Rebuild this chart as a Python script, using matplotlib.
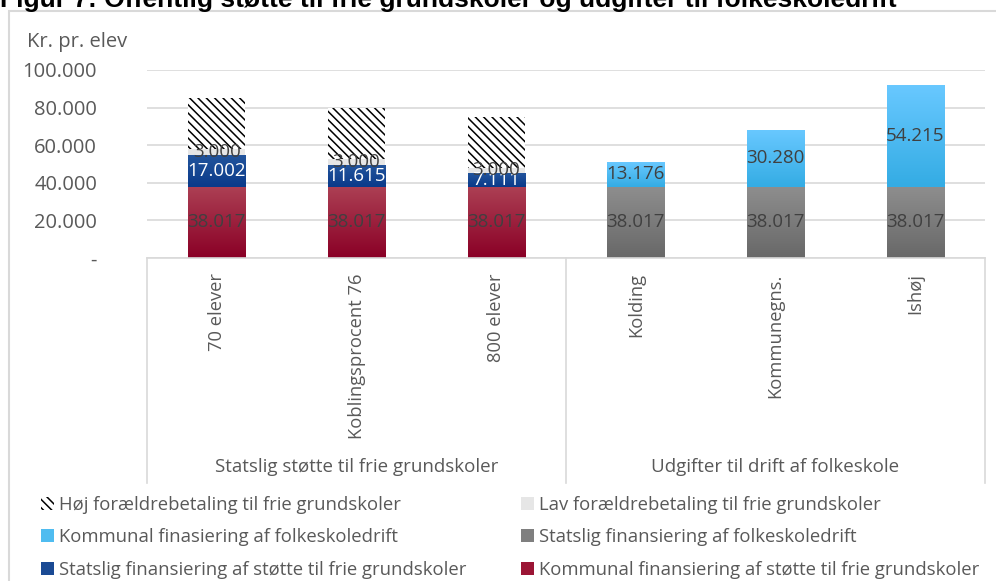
import numpy as np
import matplotlib
matplotlib.use('Agg')
import matplotlib.pyplot as plt
from matplotlib.patches import Patch, Rectangle
from matplotlib.lines import Line2D
from matplotlib.ticker import FuncFormatter
import matplotlib.transforms as mtransforms

# data
categories = ['70 elever', 'Koblingsprocent 76', '800 elever', 'Kolding', 'Kommunegns.', 'Ishøj']
groups = ['Statslig støtte til frie grundskoler', 'Udgifter til drift af folkeskole']
group_sizes = [3, 3]

kommunal_stoette = [38017, 38017, 38017, 0, 0, 0]
statslig_folkeskole = [0, 0, 0, 38017, 38017, 38017]
statslig_stoette = [17002, 11615, 7111, 0, 0, 0]
kommunal_folkeskole = [0, 0, 0, 13176, 30280, 54215]
lav_betaling = [3000, 3000, 3000, 0, 0, 0]
hoej_betaling = [27000, 27000, 27000, 0, 0, 0]

plt.rcParams['font.family'] = ['Open Sans', 'DejaVu Sans']
plt.rcParams['hatch.linewidth'] = 1.1
txt = '#595959'
lab = '#404040'
grid = '#d9d9d9'

fig = plt.figure(figsize=(9.96, 5.81), dpi=100)
ax = fig.add_axes([147/996, 1 - 258/581, 838/996, 188/581])

x = np.arange(len(categories))
w = 0.41

def fmt(v, pos=None):
    if v == 0:
        return '-'
    return f'{v:,.0f}'.replace(',', '.')

def shade(bars, top, bottom):
    top = np.array(top) / 255
    bottom = np.array(bottom) / 255
    t = np.linspace(0, 1, 64)[:, None]
    img = (top[None, :] * (1 - t) + bottom[None, :] * t)[:, None, :]
    for b in bars:
        if b.get_height() == 0:
            continue
        ax.imshow(img, extent=[b.get_x(), b.get_x() + b.get_width(), b.get_y(), b.get_y() + b.get_height()],
                  aspect='auto', zorder=2.5, interpolation='bilinear')

def labels(bars, vals, color):
    for b, v in zip(bars, vals):
        if v == 0:
            continue
        ax.text(b.get_x() + b.get_width() / 2, b.get_y() + b.get_height() / 2, fmt(v),
                ha='center', va='center', color=color, fontsize=13.5, zorder=5)

base = np.zeros(len(categories))
b1 = ax.bar(x, kommunal_stoette, w, bottom=base, color='#9b1535', zorder=2)
shade(b1, (172, 64, 84), (138, 0, 38))
b2 = ax.bar(x, statslig_folkeskole, w, bottom=base, color='#7f7f7f', zorder=2)
shade(b2, (142, 142, 142), (104, 104, 104))
base = base + np.array(kommunal_stoette) + np.array(statslig_folkeskole)
b3 = ax.bar(x, statslig_stoette, w, bottom=base, color='#1a4a94', zorder=2)
shade(b3, (34, 84, 156), (10, 58, 138))
b4 = ax.bar(x, kommunal_folkeskole, w, bottom=base, color='#4fbcf0', zorder=2)
shade(b4, (104, 200, 255), (52, 172, 228))
base = base + np.array(statslig_stoette) + np.array(kommunal_folkeskole)
b5 = ax.bar(x, lav_betaling, w, bottom=base, color='#e6e6e6', zorder=2)
base = base + np.array(lav_betaling)
b6 = ax.bar(x, hoej_betaling, w, bottom=base, color='white', edgecolor='black',
            hatch='\\\\\\\\', linewidth=0, zorder=2)

labels(b1, kommunal_stoette, lab)
labels(b2, statslig_folkeskole, lab)
labels(b3, statslig_stoette, 'white')
labels(b4, kommunal_folkeskole, lab)
labels(b5, lav_betaling, lab)

ax.set_xlim(-0.5, len(categories) - 0.5)
ax.set_ylim(0, 100000)
ax.set_yticks(np.arange(0, 100001, 20000))
ax.yaxis.set_major_formatter(FuncFormatter(fmt))
ax.yaxis.grid(True, color=grid, linewidth=1.2, zorder=0)
ax.set_axisbelow(True)
for s in ['left', 'right', 'top']:
    ax.spines[s].set_visible(False)
ax.spines['bottom'].set_color(grid)
ax.spines['bottom'].set_linewidth(1.2)
ax.tick_params(axis='y', length=0, pad=36, labelsize=14.5, labelcolor=txt)
ax.tick_params(axis='x', length=0, pad=11, labelsize=13.2, labelcolor=txt)
ax.set_xticks(x)
ax.set_xticklabels(categories, rotation=90, va='top', ha='center')

# group labels and separators below the axis
trans = mtransforms.blended_transform_factory(ax.transData, ax.transAxes)
low = -(483 - 258) / 188
edge = -0.5
for g, n in zip(groups, group_sizes):
    ax.add_line(Line2D([edge, edge], [0, low], transform=trans, color=grid, lw=1.2, clip_on=False))
    ax.text(edge + n / 2, -(467 - 258) / 188, g, transform=trans, ha='center', va='center',
            fontsize=13.5, color=txt)
    edge += n
ax.add_line(Line2D([edge, edge], [0, low], transform=trans, color=grid, lw=1.2, clip_on=False))

# chart border and title
fig.patches.append(Rectangle((9/996, -0.1), 1.2, 1.1 - 11/581, transform=fig.transFigure,
                             fill=False, edgecolor=grid, lw=1.5))
fig.text(0, 1 - 7.5/581, 'Figur 7: Offentlig støtte til frie grundskoler og udgifter til folkeskoledrift',
         fontsize=19, fontweight='bold', family='Liberation Sans', va='baseline', ha='left')
fig.text(27/996, 1 - 42/581, 'Kr. pr. elev', fontsize=14.5, color=txt, va='center', ha='left')

# legend in two columns
h_hoej = Patch(facecolor='white', edgecolor='black', hatch='\\\\\\\\', linewidth=0)
h_lav = Patch(facecolor='#e6e6e6')
h_kf = Patch(facecolor='#4fbcf0')
h_sf = Patch(facecolor='#7f7f7f')
h_ss = Patch(facecolor='#1a4a94')
h_ks = Patch(facecolor='#9b1535')
col1 = [(h_hoej, 'Høj forældrebetaling til frie grundskoler'),
        (h_kf, 'Kommunal finasiering af folkeskoledrift'),
        (h_ss, 'Statslig finansiering af støtte til frie grundskoler')]
col2 = [(h_lav, 'Lav forældrebetaling til frie grundskoler'),
        (h_sf, 'Statslig finansiering af folkeskoledrift'),
        (h_ks, 'Kommunal finansiering af støtte til frie grundskoler')]
for col, xpos in [(col1, 41), (col2, 521)]:
    leg = fig.legend([c[0] for c in col], [c[1] for c in col], loc='upper left',
                     bbox_to_anchor=(xpos/996, 1 - 496/581), frameon=False, fontsize=13.3,
                     handlelength=0.7, handleheight=0.7, handletextpad=0.3, labelspacing=0.78,
                     borderpad=0, borderaxespad=0)
    for t in leg.get_texts():
        t.set_color(txt)

fig.savefig('out.png', dpi=100)
